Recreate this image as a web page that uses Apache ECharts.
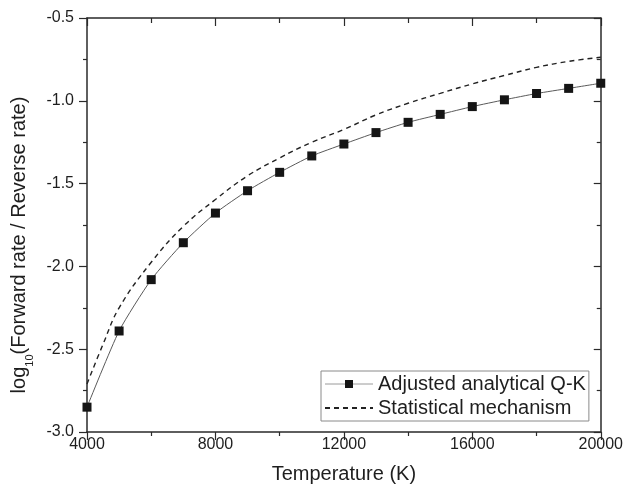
<!DOCTYPE html>
<html>
<head>
<meta charset="utf-8">
<script src="https://cdn.jsdelivr.net/npm/echarts@6/dist/echarts.min.js"></script>
<style>
  html, body { margin: 0; padding: 0; background: #fff; }
  #chart { width: 626px; height: 497px; }
</style>
</head>
<body>
<div id="chart"></div>
<script>
// temperatures (K) of the square markers
var temps = [4000, 5000, 6000, 7000, 8000, 9000, 10000, 11000, 12000, 13000, 14000, 15000, 16000, 17000, 18000, 19000, 20000];
// adjusted analytical Q-K
var qkValues = [-2.85, -2.39, -2.08, -1.857, -1.678, -1.543, -1.432, -1.333, -1.261, -1.192, -1.130, -1.082, -1.035, -0.994, -0.956, -0.925, -0.894];
// statistical mechanism (dashed), read at these temperatures
var smTemps = [4000, 4500, 5000, 6000, 7000, 8000, 9000, 10000, 11000, 12000, 13000, 14000, 15000, 16000, 17000, 18000, 19000, 20000];
var smValues = [-2.71, -2.47, -2.25, -1.975, -1.758, -1.596, -1.453, -1.345, -1.25, -1.173, -1.085, -1.015, -0.955, -0.898, -0.847, -0.798, -0.762, -0.737];

var seriesNames = ['Adjusted analytical Q-K', 'Statistical mechanism'];

function pairs(xs, ys) {
    var out = [];
    for (var i = 0; i < xs.length; i++) {
        out.push([xs[i], ys[i]]);
    }
    return out;
}

var chart = echarts.init(document.getElementById('chart'), null, { renderer: 'canvas' });

var font = 'Liberation Sans, Arial, sans-serif';
var axisColor = '#2a2a2a';
var textColor = '#1e1e1e';

var option = {
    animation: false,
    backgroundColor: '#fff',
    textStyle: { fontFamily: font },
    grid: { left: 87, right: 22, top: 18, bottom: 65 },
    legend: {
        orient: 'vertical',
        left: 321,
        top: 371,
        padding: [3, 3, 3, 3],
        itemGap: 4,
        itemWidth: 48,
        itemHeight: 10,
        borderColor: '#8a8a8a',
        borderWidth: 1,
        textStyle: { fontSize: 20, color: textColor, fontFamily: font },
        data: [
            { name: seriesNames[0], lineStyle: { color: '#9a9a9a', width: 1 } },
            { name: seriesNames[1], itemStyle: { opacity: 0 } }
        ]
    },
    xAxis: [
        {
            type: 'value',
            position: 'bottom',
            min: 4000,
            max: 20000,
            interval: 4000,
            axisLine: { onZero: false, lineStyle: { color: axisColor, width: 1.5 } },
            axisTick: { inside: false, length: 8, lineStyle: { color: axisColor, width: 1.2 } },
            minorTick: { show: true, splitNumber: 2, length: 4, lineStyle: { color: axisColor, width: 1.2 } },
            splitLine: { show: false },
            axisLabel: {
                fontSize: 16,
                color: textColor,
                margin: 5,
                fontFamily: font,
                formatter: function (v) { return String(v); }
            },
            name: 'Temperature (K)',
            nameLocation: 'middle',
            nameGap: 32,
            nameTextStyle: { fontSize: 20, color: textColor, fontFamily: font }
        },
        {
            type: 'value',
            position: 'top',
            min: 4000,
            max: 20000,
            interval: 4000,
            axisLine: { onZero: false, lineStyle: { color: axisColor, width: 1.5 } },
            axisTick: { inside: true, length: 8, lineStyle: { color: axisColor, width: 1.2 } },
            minorTick: { show: true, splitNumber: 2, length: 5, lineStyle: { color: axisColor, width: 1.2 } },
            splitLine: { show: false },
            axisLabel: { show: false }
        }
    ],
    yAxis: [
        {
            type: 'value',
            position: 'left',
            min: -3,
            max: -0.5,
            interval: 0.5,
            axisLine: { show: true, onZero: false, lineStyle: { color: axisColor, width: 1.5 } },
            axisTick: { show: true, inside: false, length: 8, lineStyle: { color: axisColor, width: 1.2 } },
            minorTick: { show: true, splitNumber: 2, length: 4, lineStyle: { color: axisColor, width: 1.2 } },
            splitLine: { show: false },
            axisLabel: {
                fontSize: 16,
                color: textColor,
                margin: 13,
                fontFamily: font,
                formatter: function (v) { return v.toFixed(1); }
            },
            name: '{a|log}{s|10}{a|(Forward rate / Reverse rate)}',
            nameLocation: 'middle',
            nameGap: 57,
            nameTextStyle: {
                color: textColor,
                fontFamily: font,
                padding: [0, 40, 0, 0],
                rich: {
                    a: { fontSize: 20, color: textColor, fontFamily: font },
                    s: { fontSize: 11, color: textColor, fontFamily: font, verticalAlign: 'bottom', padding: [0, 0, -6, 0] }
                }
            }
        },
        {
            type: 'value',
            position: 'right',
            min: -3,
            max: -0.5,
            interval: 0.5,
            axisLine: { show: true, onZero: false, lineStyle: { color: axisColor, width: 1.5 } },
            axisTick: { show: true, inside: true, length: 7, lineStyle: { color: axisColor, width: 1.2 } },
            minorTick: { show: true, splitNumber: 2, length: 4, lineStyle: { color: axisColor, width: 1.2 } },
            splitLine: { show: false },
            axisLabel: { show: false }
        }
    ],
    series: [
        {
            name: seriesNames[0],
            type: 'line',
            xAxisIndex: 0,
            yAxisIndex: 0,
            data: pairs(temps, qkValues),
            symbol: 'rect',
            symbolSize: 9,
            showAllSymbol: true,
            itemStyle: { color: '#151515' },
            lineStyle: { color: '#5a5a5a', width: 1 },
            smooth: 0.2,
            z: 3
        },
        {
            name: seriesNames[1],
            type: 'line',
            xAxisIndex: 0,
            yAxisIndex: 0,
            data: pairs(smTemps, smValues),
            symbol: 'none',
            itemStyle: { color: '#222' },
            lineStyle: { color: '#222', width: 1.4, type: [5, 4] },
            smooth: 0.4,
            z: 2
        }
    ]
};

chart.setOption(option);
window.addEventListener('resize', chart.resize);
</script>
</body>
</html>
